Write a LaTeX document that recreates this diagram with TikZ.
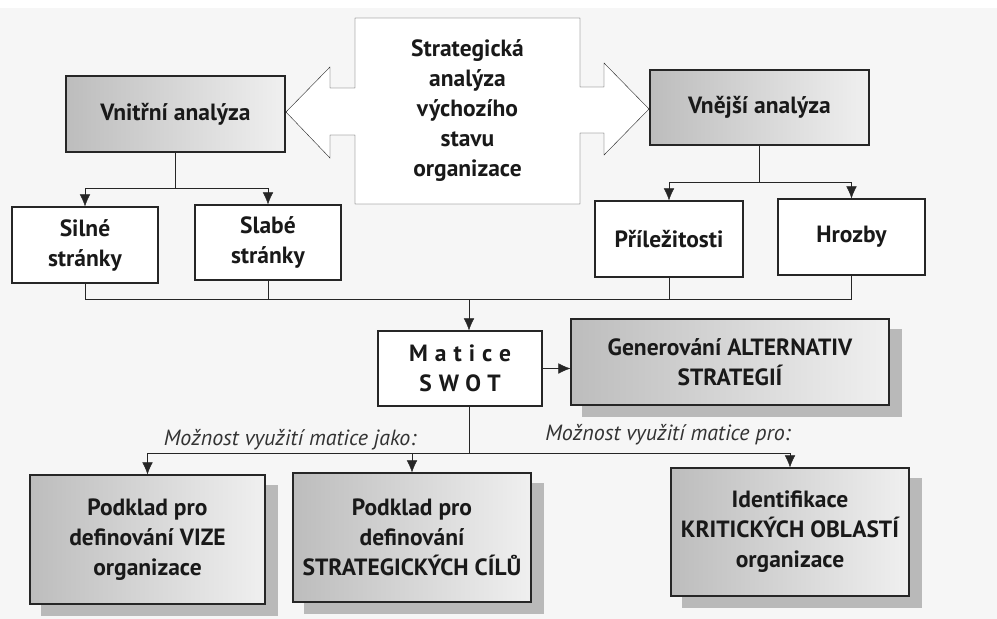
\documentclass[tikz,border=0pt]{standalone}
\usepackage{fontspec}
\setmainfont{PT Sans}
\usetikzlibrary{arrows.meta}
\pgfdeclarelayer{page}
\pgfdeclarelayer{behind}
\pgfsetlayers{page,behind,main}
\newcommand{\boxfont}{\fontsize{23.5}{30}\selectfont\bfseries}
\newcommand{\notefont}{\fontsize{22}{26}\selectfont\itshape}
\tikzset{
  box_/.style    = {shape=rectangle, draw, align=center, line width=1.2pt, inner sep=2pt, font=\boxfont, text=black!90},
  grey_/.style   = {box_, left color=gray!52, right color=gray!12},
  note_/.style   = {font=\notefont, text=black!80, inner sep=1pt},
  arr_/.style    = {-{Latex[length=12pt,width=10.5pt]}}
}

\begin{document}
\begin{tikzpicture}
	[
	x = 1pt, y = -1pt,
	line width = 1.2pt,
	color = black!85
	]
	\begin{pgfonlayer}{page}
	\fill[white] (0,0) rectangle (997,619);
	\fill[gray!7] (0,8) rectangle (997,619);
	\end{pgfonlayer}
	\useasboundingbox (0,0) rectangle (997,619);

	\draw[fill=white] (355,18) -- (580,18) -- (580,87) -- (604,87) -- (604,63) -- (649,109)
		-- (604,155) -- (604,133) -- (580,133) -- (580,204) -- (355,204) -- (355,135)
		-- (330,135) -- (330,158) -- (286,112) -- (330,67) -- (330,88) -- (355,88) -- cycle;
	\node [font=\boxfont, align=center, text=black!90] (strat) at (467.5,110.5)
		{Strategická\\analýza\\výchozího\\stavu\\organizace};

	\node [grey_, minimum width=219pt, minimum height=76pt] (vnitrni) at (175.5,114) {Vnitřní analýza};
	\node [grey_, minimum width=219pt, minimum height=75pt] (vnejsi) at (759.5,107.5) {Vnější analýza};

	\node [box_, fill=white, minimum width=146pt, minimum height=76pt] (silne) at (85,245) {Silné\\stránky};
	\node [box_, fill=white, minimum width=146pt, minimum height=75pt] (slabe) at (268,242.5) {Slabé\\stránky};
	\node [box_, fill=white, minimum width=148pt, minimum height=76pt] (prilez) at (669,239) {Příležitosti};
	\node [box_, fill=white, minimum width=147pt, minimum height=76pt] (hrozby) at (851.5,237) {Hrozby};

	\node [box_, fill=white, minimum width=164pt, minimum height=75pt,
		font=\boxfont\addfontfeatures{LetterSpace=30}] (swot) at (460,368.5) {Matice\\SWOT};
	\node [grey_, minimum width=318pt, minimum height=86pt] (gener) at (730,362)
		{Generování ALTERNATIV\\STRATEGIÍ};

	\node [grey_, minimum width=235pt, minimum height=129pt] (vize) at (147.5,539.5)
		{Podklad pro\\definování VIZE\\organizace};
	\node [grey_, minimum width=238pt, minimum height=129pt] (cile) at (412,537.5)
		{Podklad pro\\definování\\STRATEGICKÝCH CÍLŮ};
	\node [grey_, minimum width=238pt, minimum height=128pt] (krit) at (790,532)
		{Identifikace\\KRITICKÝCH OBLASTÍ\\organizace};

	\begin{pgfonlayer}{behind}
	\foreach \n in {gener,vize,cile,krit}
		\fill[gray!55] ([shift={(12,11)}]\n.south west) rectangle ([shift={(12,11)}]\n.north east);
	\end{pgfonlayer}

	\node [note_] (lbljako) at (290,440) {Možnost využití matice jako:};
	\node [note_] (lblpro) at (668,435) {Možnost využití matice pro:};

	\draw (vnitrni.south) -- ++(0,36) coordinate (vfork);
	\draw[arr_] (vfork) -| (silne.north);
	\draw[arr_] (vfork) -| (slabe.north);
	\draw (vnejsi.south) -- ++(0,37) coordinate (efork);
	\draw[arr_] (efork) -| (prilez.north);
	\draw[arr_] (efork) -| (hrozby.north);

	\coordinate (collect) at (469,299);
	\draw (silne.south) -- (silne.south |- collect) -- (hrozby.south |- collect) -- (hrozby.south);
	\draw (slabe.south) -- (slabe.south |- collect);
	\draw (prilez.south) -- (prilez.south |- collect);
	\draw[arr_] (collect) -- (collect |- swot.north);

	\draw[arr_] (swot.east) -- (gener.west |- swot.east);

	\coordinate (split) at (469,453);
	\draw (split |- swot.south) -- (split);
	\draw[arr_] (split) -| (vize.north);
	\draw[arr_] (split) -| (cile.north);
	\draw[arr_] (split) -| (krit.north);
\end{tikzpicture}
\end{document}
